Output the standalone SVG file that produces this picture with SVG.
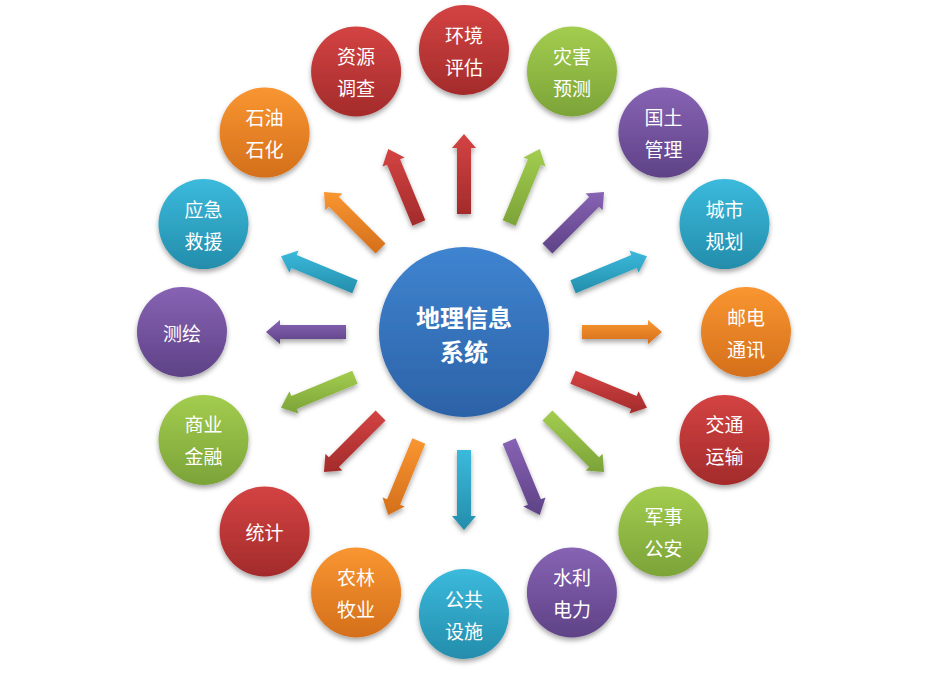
<svg xmlns="http://www.w3.org/2000/svg" width="928" height="673" viewBox="0 0 928 673">
<defs>
<linearGradient id="gRed" x1="0" y1="0" x2="0" y2="1"><stop offset="0" stop-color="#d44343"/><stop offset="1" stop-color="#a32b2b"/></linearGradient>
<linearGradient id="gGreen" x1="0" y1="0" x2="0" y2="1"><stop offset="0" stop-color="#a3cd4f"/><stop offset="1" stop-color="#7ba338"/></linearGradient>
<linearGradient id="gPurple" x1="0" y1="0" x2="0" y2="1"><stop offset="0" stop-color="#8763b4"/><stop offset="1" stop-color="#5e4286"/></linearGradient>
<linearGradient id="gTeal" x1="0" y1="0" x2="0" y2="1"><stop offset="0" stop-color="#3bbadc"/><stop offset="1" stop-color="#248dab"/></linearGradient>
<linearGradient id="gOrange" x1="0" y1="0" x2="0" y2="1"><stop offset="0" stop-color="#f99631"/><stop offset="1" stop-color="#d46f1b"/></linearGradient>
<linearGradient id="gBlue" x1="0" y1="0" x2="0" y2="1"><stop offset="0" stop-color="#3f84d0"/><stop offset="1" stop-color="#2c62a7"/></linearGradient>
<filter id="sh" x="-30%" y="-30%" width="160%" height="170%"><feDropShadow dx="0" dy="3" stdDeviation="2.5" flood-color="#000" flood-opacity="0.35"/></filter>
</defs>
<style>
.red{fill:url(#gRed)} .green{fill:url(#gGreen)} .purple{fill:url(#gPurple)} .teal{fill:url(#gTeal)} .orange{fill:url(#gOrange)} .blue{fill:url(#gBlue)}
.node circle, .arrows polygon{filter:url(#sh)}
text{fill:#fff;font-family:"Noto Sans CJK SC","Noto Sans CJK JP",sans-serif;text-anchor:middle;dominant-baseline:central}
.t{font-size:19px}
.c{font-size:24px;font-weight:bold}
</style>
<rect width="928" height="673" fill="#fff"/>
<g id="connectors" class="arrows">
<polygon class="red" points="471,214 471,148 476,148 464,134 452,148 457,148 457,214"/>
<polygon class="green" points="515.63,225.66 540.88,164.69 545.50,166.60 539.77,149.07 523.32,157.42 527.94,159.33 502.69,220.30"/>
<polygon class="purple" points="552.39,253.51 599.06,206.84 602.60,210.37 604.01,191.99 585.62,193.40 589.16,196.94 542.49,243.61"/>
<polygon class="teal" points="575.70,293.31 636.67,268.06 638.58,272.68 646.93,256.23 629.40,250.50 631.31,255.12 570.34,280.37"/>
<polygon class="orange" points="582,339 648,339 648,344 662,332 648,320 648,325 582,325"/>
<polygon class="red" points="570.34,383.63 631.31,408.88 629.40,413.50 646.93,407.77 638.58,391.32 636.67,395.94 575.70,370.69"/>
<polygon class="green" points="542.49,420.39 589.16,467.06 585.62,470.60 604.01,472.01 602.60,453.63 599.06,457.16 552.39,410.49"/>
<polygon class="purple" points="502.69,443.70 527.94,504.67 523.32,506.58 539.77,514.93 545.50,497.40 540.88,499.31 515.63,438.34"/>
<polygon class="teal" points="457,450 457,516 452,516 464,530 476,516 471,516 471,450"/>
<polygon class="orange" points="412.37,438.34 387.12,499.31 382.50,497.40 388.23,514.93 404.68,506.58 400.06,504.67 425.31,443.70"/>
<polygon class="red" points="375.61,410.49 328.94,457.16 325.40,453.63 323.99,472.01 342.38,470.60 338.84,467.06 385.51,420.39"/>
<polygon class="green" points="352.30,370.69 291.33,395.94 289.42,391.32 281.07,407.77 298.60,413.50 296.69,408.88 357.66,383.63"/>
<polygon class="purple" points="346,325 280,325 280,320 266,332 280,344 280,339 346,339"/>
<polygon class="teal" points="357.66,280.37 296.69,255.12 298.60,250.50 281.07,256.23 289.42,272.68 291.33,268.06 352.30,293.31"/>
<polygon class="orange" points="385.51,243.61 338.84,196.94 342.38,193.40 323.99,191.99 325.40,210.37 328.94,206.84 375.61,253.51"/>
<polygon class="red" points="425.31,220.30 400.06,159.33 404.68,157.42 388.23,149.07 382.50,166.60 387.12,164.69 412.37,225.66"/>
</g>
<g id="center" class="node"><circle class="blue" cx="464" cy="332" r="85"/><text class="c" x="464" y="316">地理信息</text><text class="c" x="464" y="350">系统</text></g>
<g id="n-huanjing" class="node"><circle class="red" cx="464" cy="50" r="45"/><text class="t" x="464" y="34">环境</text><text class="t" x="464" y="66">评估</text></g>
<g id="n-zaihai" class="node"><circle class="green" cx="572" cy="71.5" r="45"/><text class="t" x="572" y="55.5">灾害</text><text class="t" x="572" y="87.5">预测</text></g>
<g id="n-guotu" class="node"><circle class="purple" cx="663.4" cy="132.6" r="45"/><text class="t" x="663.4" y="116.6">国土</text><text class="t" x="663.4" y="148.6">管理</text></g>
<g id="n-chengshi" class="node"><circle class="teal" cx="724.5" cy="224.1" r="45"/><text class="t" x="724.5" y="208.1">城市</text><text class="t" x="724.5" y="240.1">规划</text></g>
<g id="n-youdian" class="node"><circle class="orange" cx="746" cy="332" r="45"/><text class="t" x="746" y="316">邮电</text><text class="t" x="746" y="348">通讯</text></g>
<g id="n-jiaotong" class="node"><circle class="red" cx="724.5" cy="439.9" r="45"/><text class="t" x="724.5" y="423.9">交通</text><text class="t" x="724.5" y="455.9">运输</text></g>
<g id="n-junshi" class="node"><circle class="green" cx="663.4" cy="531.4" r="45"/><text class="t" x="663.4" y="515.4">军事</text><text class="t" x="663.4" y="547.4">公安</text></g>
<g id="n-shuili" class="node"><circle class="purple" cx="571.9" cy="592.5" r="45"/><text class="t" x="571.9" y="576.5">水利</text><text class="t" x="571.9" y="608.5">电力</text></g>
<g id="n-gonggong" class="node"><circle class="teal" cx="464" cy="614" r="45"/><text class="t" x="464" y="598">公共</text><text class="t" x="464" y="630">设施</text></g>
<g id="n-nonglin" class="node"><circle class="orange" cx="356.1" cy="592.5" r="45"/><text class="t" x="356.1" y="576.5">农林</text><text class="t" x="356.1" y="608.5">牧业</text></g>
<g id="n-tongji" class="node"><circle class="red" cx="264.6" cy="531.4" r="45"/><text class="t" x="264.6" y="531.4">统计</text></g>
<g id="n-shangye" class="node"><circle class="green" cx="203.5" cy="439.9" r="45"/><text class="t" x="203.5" y="423.9">商业</text><text class="t" x="203.5" y="455.9">金融</text></g>
<g id="n-cehui" class="node"><circle class="purple" cx="182" cy="332" r="45"/><text class="t" x="182" y="332">测绘</text></g>
<g id="n-yingji" class="node"><circle class="teal" cx="203.5" cy="224.1" r="45"/><text class="t" x="203.5" y="208.1">应急</text><text class="t" x="203.5" y="240.1">救援</text></g>
<g id="n-shiyou" class="node"><circle class="orange" cx="264.6" cy="132.6" r="45"/><text class="t" x="264.6" y="116.6">石油</text><text class="t" x="264.6" y="148.6">石化</text></g>
<g id="n-ziyuan" class="node"><circle class="red" cx="356.1" cy="71.5" r="45"/><text class="t" x="356.1" y="55.5">资源</text><text class="t" x="356.1" y="87.5">调查</text></g>
</svg>
